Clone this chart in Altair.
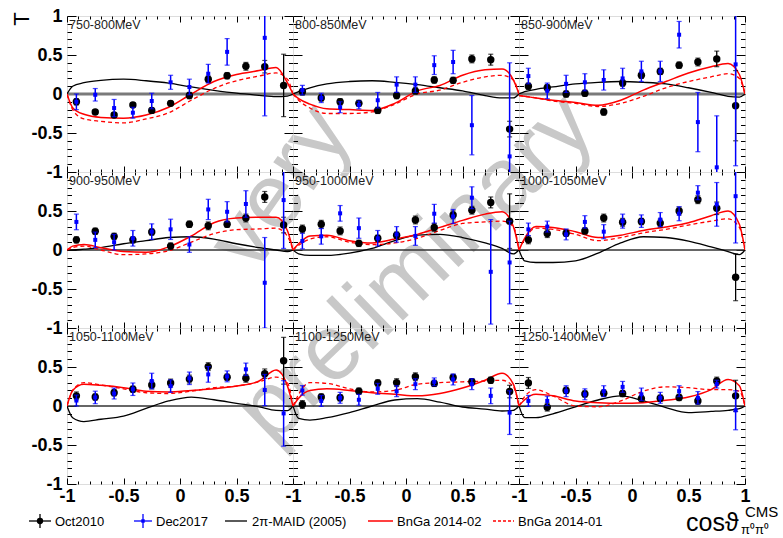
import altair as alt
import pandas as pd

# ---------------- data ----------------
PANEL_LABELS = ["750-800MeV", "800-850MeV", "850-900MeV",
                "900-950MeV", "950-1000MeV", "1000-1050MeV",
                "1050-1100MeV", "1100-1250MeV", "1250-1400MeV"]

COS_BINS = [-0.917, -0.75, -0.583, -0.417, -0.25, -0.083,
            0.083, 0.25, 0.417, 0.583, 0.75, 0.917]

CURVE_COS = [-1.0, -0.95, -0.85, -0.7, -0.5, -0.3, -0.1,
             0.1, 0.3, 0.5, 0.7, 0.85, 0.95, 1.0]

OCT_T = [
    [-0.10, -0.23, -0.27, -0.14, -0.21, -0.12, -0.02, 0.19, 0.235, 0.355, 0.35, 0.11],
    [0.03, -0.05, -0.10, -0.12, -0.21, -0.02, 0.04, 0.18, 0.175, 0.45, 0.44, -0.45],
    [0.10, 0.08, 0.0, 0.01, -0.23, 0.14, 0.24, 0.29, 0.37, 0.41, 0.45, -0.15],
    [0.13, 0.24, 0.175, 0.13, 0.23, 0.05, 0.33, 0.31, 0.33, 0.41, 0.68, 0.32],
    [0.27, 0.33, 0.245, 0.085, 0.15, 0.19, 0.385, 0.29, 0.45, 0.51, 0.61, 0.37],
    [0.13, 0.21, 0.215, 0.245, 0.41, 0.355, 0.365, 0.345, 0.50, 0.645, 0.535, -0.35],
    [0.13, 0.115, 0.17, 0.215, 0.27, 0.295, 0.345, 0.505, 0.37, 0.355, 0.415, 0.58],
    [0.02, 0.115, 0.105, 0.19, 0.295, 0.30, 0.375, 0.29, 0.365, 0.31, 0.33, 0.185],
    [0.295, -0.015, 0.20, 0.155, 0.165, 0.16, 0.095, 0.10, 0.11, 0.065, 0.32, 0.13],
]
OCT_ERR = [
    [0.04, 0.03, 0.03, 0.03, 0.03, 0.03, 0.04, 0.04, 0.04, 0.05, 0.08, 0.40],
    [0.04, 0.04, 0.04, 0.04, 0.04, 0.04, 0.04, 0.04, 0.04, 0.05, 0.07, 0.10],
    [0.04, 0.04, 0.04, 0.04, 0.04, 0.04, 0.04, 0.04, 0.04, 0.05, 0.10, 0.45],
    [0.04, 0.04, 0.04, 0.04, 0.04, 0.04, 0.04, 0.05, 0.04, 0.05, 0.07, 0.10],
    [0.05, 0.05, 0.05, 0.04, 0.04, 0.04, 0.05, 0.05, 0.05, 0.05, 0.07, 0.35],
    [0.05, 0.05, 0.04, 0.04, 0.05, 0.05, 0.04, 0.05, 0.05, 0.05, 0.08, 0.30],
    [0.05, 0.04, 0.04, 0.04, 0.05, 0.05, 0.05, 0.05, 0.04, 0.05, 0.06, 0.30],
    [0.05, 0.04, 0.04, 0.04, 0.04, 0.05, 0.05, 0.04, 0.04, 0.04, 0.04, 0.08],
    [0.07, 0.05, 0.04, 0.04, 0.04, 0.04, 0.04, 0.04, 0.04, 0.04, 0.05, 0.20],
]
DEC_T = [
    [-0.10, -0.01, -0.18, -0.24, -0.09, 0.15, 0.09, 0.26, 0.54, None, 0.72, None],
    [0.05, -0.05, -0.17, -0.14, -0.08, 0.12, 0.12, 0.37, 0.41, -0.40, None, -0.80],
    [0.23, 0.04, 0.13, 0.15, 0.18, 0.20, 0.29, 0.29, 0.76, -0.36, -0.94, 0.38],
    [0.36, 0.13, 0.10, 0.15, 0.235, 0.265, 0.07, 0.52, 0.49, 0.59, -0.42, 0.64],
    [0.115, 0.175, 0.47, 0.28, 0.15, 0.20, 0.18, 0.465, 0.43, 0.67, -0.28, -0.16],
    [0.265, 0.30, 0.20, 0.36, 0.235, 0.37, 0.37, 0.39, 0.465, 0.735, 0.585, 0.69],
    [0.07, 0.11, 0.16, 0.215, 0.32, 0.255, 0.355, 0.405, 0.38, 0.47, 0.205, -0.095],
    [0.20, 0.065, 0.105, 0.08, 0.22, 0.19, 0.28, 0.31, 0.34, 0.28, 0.13, -0.085],
    [0.065, 0.065, 0.19, 0.15, 0.19, 0.245, 0.15, 0.105, 0.19, 0.105, 0.28, -0.055],
]
DEC_ERR = [
    [0.10, 0.08, 0.11, 0.07, 0.10, 0.09, 0.10, 0.12, 0.17, None, 1.0, None],
    [0.06, 0.06, 0.07, 0.05, 0.10, 0.10, 0.10, 0.12, 0.15, 0.38, None, 1.2],
    [0.10, 0.10, 0.11, 0.11, 0.13, 0.13, 0.13, 0.13, 0.17, 0.38, 0.66, 1.3],
    [0.10, 0.10, 0.10, 0.10, 0.10, 0.13, 0.10, 0.13, 0.13, 0.17, 0.58, 0.62],
    [0.10, 0.10, 0.10, 0.13, 0.10, 0.10, 0.12, 0.12, 0.09, 0.14, 0.67, 0.53],
    [0.08, 0.07, 0.07, 0.08, 0.09, 0.09, 0.08, 0.09, 0.09, 0.09, 0.28, 0.60],
    [0.07, 0.08, 0.07, 0.08, 0.10, 0.08, 0.08, 0.10, 0.07, 0.08, 0.20, 0.42],
    [0.06, 0.07, 0.07, 0.07, 0.07, 0.07, 0.07, 0.05, 0.07, 0.07, 0.10, 0.28],
    [0.07, 0.06, 0.07, 0.07, 0.07, 0.07, 0.08, 0.07, 0.07, 0.08, 0.05, 0.25],
]
MAID = [
    [0, 0.10, 0.145, 0.175, 0.19, 0.17, 0.14, 0.09, 0.047, 0.01, -0.017, -0.034, -0.026, 0],
    [0, 0.03, 0.08, 0.13, 0.16, 0.17, 0.15, 0.12, 0.08, 0.04, -0.02, -0.05, -0.05, 0],
    [0, 0.03, 0.06, 0.09, 0.13, 0.15, 0.16, 0.15, 0.13, 0.08, 0.02, -0.03, -0.04, 0],
    [0, 0.0, 0.01, 0.03, 0.08, 0.12, 0.16, 0.17, 0.14, 0.08, 0.03, 0.0, -0.02, 0],
    [0, -0.05, -0.07, -0.07, -0.04, 0.02, 0.12, 0.19, 0.20, 0.16, 0.09, 0.02, -0.05, 0],
    [0, -0.14, -0.16, -0.16, -0.14, -0.04, 0.09, 0.17, 0.16, 0.115, 0.04, -0.02, -0.06, 0],
    [0, -0.15, -0.20, -0.17, -0.13, -0.03, 0.065, 0.115, 0.08, 0.035, -0.01, -0.055, -0.06, 0],
    [0, -0.16, -0.18, -0.15, -0.085, 0.0, 0.077, 0.094, 0.05, -0.013, -0.04, -0.064, -0.055, 0],
    [0, -0.15, -0.15, -0.10, -0.01, 0.077, 0.13, 0.065, -0.02, -0.085, -0.07, -0.055, -0.035, 0],
]
BNGA_02 = [
    [0, -0.175, -0.26, -0.30, -0.31, -0.27, -0.17, 0.0, 0.16, 0.25, 0.30, 0.34, 0.145, 0],
    [0, -0.06, -0.13, -0.19, -0.20, -0.21, -0.12, 0.04, 0.11, 0.24, 0.31, 0.32, 0.18, 0],
    [-0.02, -0.03, -0.05, -0.08, -0.11, -0.145, -0.08, 0.05, 0.16, 0.27, 0.35, 0.39, 0.25, 0],
    [0, 0.05, 0.07, 0.03, -0.02, -0.03, 0.04, 0.18, 0.35, 0.41, 0.42, 0.42, 0.25, 0],
    [0, 0.08, 0.18, 0.19, 0.12, 0.09, 0.14, 0.20, 0.29, 0.38, 0.46, 0.49, 0.30, 0],
    [0, 0.15, 0.30, 0.29, 0.235, 0.16, 0.19, 0.25, 0.295, 0.35, 0.44, 0.50, 0.33, 0],
    [0, 0.20, 0.28, 0.265, 0.235, 0.19, 0.18, 0.20, 0.22, 0.255, 0.32, 0.46, 0.26, 0],
    [0, 0.10, 0.20, 0.22, 0.20, 0.17, 0.15, 0.13, 0.16, 0.23, 0.33, 0.42, 0.28, 0],
    [0, 0.08, 0.15, 0.13, 0.065, 0.043, 0.034, 0.043, 0.073, 0.115, 0.21, 0.34, 0.26, 0],
]
BNGA_01 = [
    [0, -0.20, -0.32, -0.35, -0.37, -0.32, -0.24, -0.08, 0.07, 0.17, 0.23, 0.27, 0.19, 0],
    [0, -0.08, -0.18, -0.25, -0.25, -0.23, -0.13, 0.0, 0.05, 0.15, 0.22, 0.24, 0.18, 0],
    [-0.02, -0.03, -0.05, -0.09, -0.12, -0.16, -0.12, -0.03, 0.08, 0.16, 0.22, 0.26, 0.20, 0],
    [0, 0.03, 0.05, 0.0, -0.06, -0.05, -0.01, 0.10, 0.21, 0.26, 0.27, 0.28, 0.18, 0],
    [0, 0.06, 0.14, 0.17, 0.10, 0.07, 0.09, 0.15, 0.25, 0.34, 0.36, 0.37, 0.30, 0],
    [0, 0.14, 0.28, 0.265, 0.20, 0.12, 0.16, 0.22, 0.265, 0.32, 0.37, 0.40, 0.29, 0],
    [0, 0.20, 0.30, 0.27, 0.22, 0.17, 0.16, 0.19, 0.235, 0.255, 0.31, 0.37, 0.30, 0],
    [0, 0.15, 0.30, 0.29, 0.22, 0.18, 0.20, 0.28, 0.30, 0.31, 0.32, 0.33, 0.25, 0],
    [0, 0.12, 0.21, 0.13, 0.0, -0.01, 0.065, 0.19, 0.245, 0.235, 0.21, 0.21, 0.19, 0],
]

MAJOR = [-1, -0.5, 0, 0.5, 1]
MINOR = [-0.9, -0.8, -0.7, -0.6, -0.4, -0.3, -0.2, -0.1,
         0.1, 0.2, 0.3, 0.4, 0.6, 0.7, 0.8, 0.9]

# ---------------- styling ----------------
W, H = 226, 156
FONT = "Liberation Sans"
XS = alt.Scale(domain=[-1, 1], nice=False, zero=False)
YS = alt.Scale(domain=[-1, 1], nice=False, zero=False)
GUIDE = pd.DataFrame({"x": [-1, 1], "y": [0, 0]})
ONE = pd.DataFrame({"a": [0]})


def tick_axis(orient, offset, values, size):
    return alt.Axis(orient=orient, offset=offset, values=values, tickSize=size,
                    tickWidth=1, tickColor="black", labels=False, domain=False,
                    grid=False, title=None, minExtent=0)


def guide(xax, yax):
    return alt.Chart(GUIDE).mark_line(opacity=0).encode(
        x=alt.X("x:Q", scale=XS, axis=xax),
        y=alt.Y("y:Q", scale=YS, axis=yax))


def label_axis_x(values):
    return alt.Axis(orient="bottom", values=values, ticks=False, domain=False,
                    grid=False, title=None, labelFont=FONT, labelFontWeight="bold",
                    labelFontSize=18, labelColor="black", labelPadding=3,
                    labelExpr="datum.value + ''", labelOverlap=False,
                    labelFlush=False, minExtent=0)


def label_axis_y(values):
    return alt.Axis(orient="left", values=values, ticks=False, domain=False,
                    grid=False, title=None, labelFont=FONT, labelFontWeight="bold",
                    labelFontSize=18, labelColor="black", labelPadding=5,
                    labelExpr="datum.value + ''", labelOverlap=False,
                    labelFlush=False, labelBaseline="middle", minExtent=0)


def ann_text(text, x, y, size=13, align="left", baseline="alphabetic",
             angle=0, color="black", weight="normal"):
    return alt.Chart(ONE).mark_text(
        text=text, font=FONT, fontSize=size, align=align, baseline=baseline,
        angle=angle, color=color, fontWeight=weight).encode(
        x=alt.value(x), y=alt.value(y))


def ann_rule(x1, x2, y1, y2, color, width=1.5, dash=None):
    kw = dict(color=color, strokeWidth=width)
    if dash:
        kw["strokeDash"] = dash
    return alt.Chart(ONE).mark_rule(**kw).encode(
        x=alt.value(x1), x2=alt.value(x2), y=alt.value(y1), y2=alt.value(y2))


def points_frame(vals, errs):
    rows = [{"cos": c, "t": v, "e": e} for c, v, e in zip(COS_BINS, vals, errs)
            if v is not None]
    return pd.DataFrame(rows)


def curve_layer(vals, color, width, dash=None):
    df = pd.DataFrame({"cos": CURVE_COS, "t": vals})
    kw = dict(color=color, strokeWidth=width, interpolate="monotone", clip=True)
    if dash:
        kw["strokeDash"] = dash
    return alt.Chart(df).mark_line(**kw).encode(
        x=alt.X("cos:Q", scale=XS, axis=None),
        y=alt.Y("t:Q", scale=YS, axis=None))


def data_layers(df, color, size, shape, ewidth):
    base = alt.Chart(df).transform_calculate(
        lo="datum.t - datum.e", hi="datum.t + datum.e")
    x = alt.X("cos:Q", scale=XS, axis=None)
    bar = base.mark_rule(color=color, strokeWidth=ewidth, clip=True).encode(
        x=x, y=alt.Y("lo:Q", scale=YS, axis=None), y2="hi:Q")
    cap_lo = base.mark_tick(color=color, orient="horizontal", size=5,
                            thickness=1.2, clip=True).encode(
        x=x, y=alt.Y("lo:Q", scale=YS, axis=None))
    cap_hi = base.mark_tick(color=color, orient="horizontal", size=5,
                            thickness=1.2, clip=True).encode(
        x=x, y=alt.Y("hi:Q", scale=YS, axis=None))
    pts = base.mark_point(filled=True, opacity=1, color=color, size=size,
                          shape=shape).encode(
        x=x, y=alt.Y("t:Q", scale=YS, axis=None))
    return [bar, cap_lo, cap_hi, pts]


def panel(i):
    r, c = divmod(i, 3)
    layers = []
    # invisible guard that fixes the page origin (white on white)
    if i == 0:
        layers.append(ann_rule(-66, -64, -15, -15, "white", 1))
    # label axes
    if r == 2 or c == 0:
        xax = label_axis_x(MAJOR if c == 2 else MAJOR[:-1]) if r == 2 else None
        yax = label_axis_y(MAJOR if r == 0 else MAJOR[:-1]) if c == 0 else None
        layers.append(guide(xax, yax))
    # inward ticks on all four sides
    layers.append(guide(tick_axis("top", -H, MAJOR, 6), tick_axis("right", -W, MAJOR, 9)))
    layers.append(guide(tick_axis("top", -H, MINOR, 3), tick_axis("right", -W, MINOR, 4.5)))
    layers.append(guide(tick_axis("bottom", -H, MAJOR, 6), tick_axis("left", -W, MAJOR, 9)))
    layers.append(guide(tick_axis("bottom", -H, MINOR, 3), tick_axis("left", -W, MINOR, 4.5)))

    if i == 0:
        # watermark
        layers.append(ann_text("very", 214, 172, size=93, align="center",
                               baseline="middle", angle=305, color="#c8c8c8"))
        layers.append(ann_text("preliminary", 349, 253, size=93, align="center",
                               baseline="middle", angle=316, color="#c8c8c8"))
        # y title
        layers.append(ann_text("T", -45, 3, size=22, align="center",
                               baseline="middle", angle=270))

    zero_color = "#7a7a7a" if r == 0 else "#333333"
    zero_width = 3 if r == 0 else 1.3
    layers.append(alt.Chart(GUIDE).mark_line(color=zero_color, strokeWidth=zero_width).encode(
        x=alt.X("x:Q", scale=XS, axis=None), y=alt.Y("y:Q", scale=YS, axis=None)))

    layers.append(curve_layer(MAID[i], "black", 1.3))
    layers.append(curve_layer(BNGA_01[i], "#ff0000", 1.3, [4, 3]))
    layers.append(curve_layer(BNGA_02[i], "#ff0000", 1.5))

    layers += data_layers(points_frame(OCT_T[i], OCT_ERR[i]), "black", 55, "circle", 1.3)
    layers += data_layers(points_frame(DEC_T[i], DEC_ERR[i]), "#0000ff", 16, "square", 1.5)

    layers.append(ann_text(PANEL_LABELS[i], 2, 3, size=12.5, baseline="top",
                           color="#222222"))

    if i == 6:
        ly = 193
        # Oct2010
        layers.append(ann_rule(-38, -16, ly, ly, "black", 1.3))
        layers.append(ann_rule(-27, -27, ly - 7, ly + 7, "black", 1.3))
        layers.append(alt.Chart(ONE).mark_circle(color="black", size=40, opacity=1).encode(
            x=alt.value(-27), y=alt.value(ly)))
        layers.append(ann_text("Oct2010", -12, ly + 5, size=13))
        # Dec2017
        layers.append(ann_rule(67, 85, ly, ly, "#0000ff", 1.3))
        layers.append(ann_rule(76, 76, ly - 7, ly + 7, "#0000ff", 1.3))
        layers.append(alt.Chart(ONE).mark_square(color="#0000ff", size=12, opacity=1).encode(
            x=alt.value(76), y=alt.value(ly)))
        layers.append(ann_text("Dec2017", 89, ly + 5, size=13))
        # MAID
        layers.append(ann_rule(158, 180, ly, ly, "black", 1.3))
        layers.append(ann_text("2\u03c0-MAID (2005)", 185, ly + 5, size=13))
        # BnGa 02
        layers.append(ann_rule(301, 326, ly, ly, "#ff0000", 1.5))
        layers.append(ann_text("BnGa 2014-02", 330, ly + 5, size=13))
        # BnGa 01
        layers.append(ann_rule(426, 447, ly, ly, "#ff0000", 1.3, [3, 2]))
        layers.append(ann_text("BnGa 2014-01", 451, ly + 5, size=13))

    if i == 8:
        layers.append(ann_text("cos\u03d1", 167, 203, size=25))
        layers.append(ann_text("CMS", 226, 189, size=15))
        layers.append(ann_text("\u03c0\u2070\u03c0\u2070", 222, 206, size=13))

    return alt.layer(*layers).resolve_axis(x="independent", y="independent").properties(
        width=W, height=H)


chart = alt.concat(*[panel(i) for i in range(9)], columns=3, spacing=0,
                   bounds="flush").properties(
    padding={"left": 0, "top": 0, "right": 0, "bottom": 0}
).configure_view(stroke="black", strokeWidth=2).configure(background="white")

chart.save("out.html", embed_options={"renderer": "svg", "actions": False})
